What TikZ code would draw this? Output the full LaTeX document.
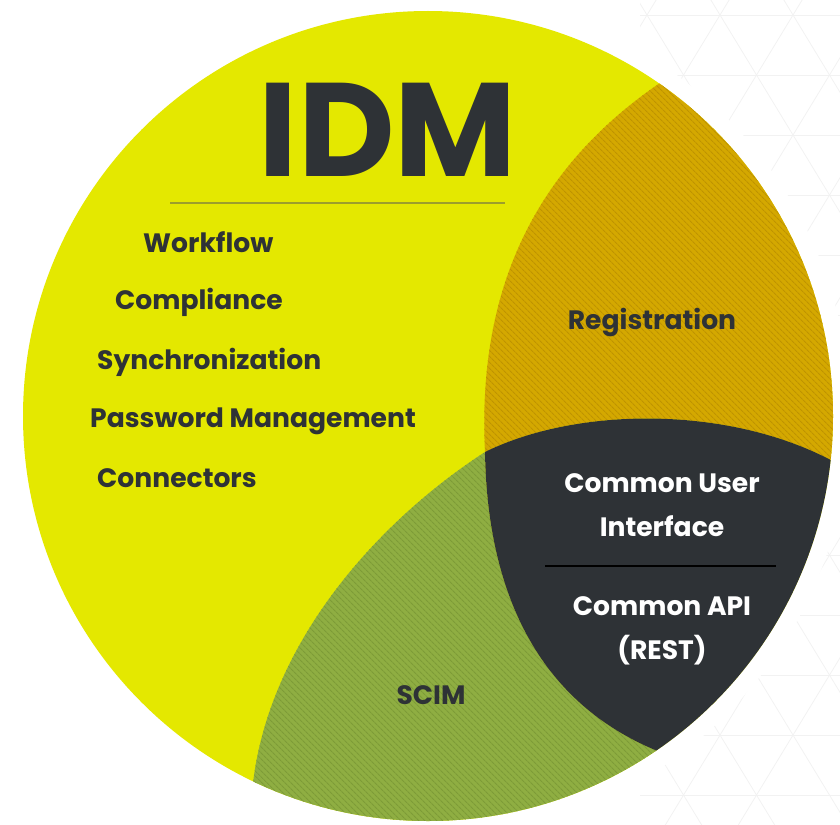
\documentclass[tikz,border=0pt]{standalone}
\usepackage{fontspec}
\setmainfont{Poppins}
\usetikzlibrary{patterns.meta}
\definecolor{idmyellow}{HTML}{E4E800}
\definecolor{idmgold}{HTML}{D4A800}
\definecolor{idmgoldline}{HTML}{BE9300}
\definecolor{idmgreen}{HTML}{8FAE42}
\definecolor{idmgreenline}{HTML}{7D9B37}
\definecolor{idmdark}{HTML}{2E3236}
\definecolor{idmrule}{HTML}{9C9E2C}

\begin{document}
\begin{tikzpicture}[x=1pt, y=-1pt, line join=round]
    \tikzstyle{item}=[anchor=base west, inner sep=0pt, text=idmdark, font=\fontsize{26.6}{26.6}\selectfont\bfseries]
    \tikzstyle{cnode}=[anchor=base, inner sep=0pt, font=\fontsize{26.6}{26.6}\selectfont\bfseries]
    \tikzstyle{hatch}=[pattern={Lines[angle=-45, distance=4pt, line width=1.1pt]}]
    \def\rbig{405}

    \useasboundingbox (0,0) rectangle (840,824);
    \coordinate (c) at (428,416);
    \coordinate (tri) at (485,452);

    % faint triangle grid behind, right side only
    \begin{scope}
        \clip (640,0) rectangle (840,824);
        \foreach \j in {0,...,13}
            \draw[black!5, line width=0.8pt] (600,15+60*\j) -- (850,15+60*\j);
        \foreach \k in {-14,...,6} {
            \pgfmathsetmacro\gx{793+73*\k}
            \draw[black!5, line width=0.8pt] ({\gx-500},-807) -- ({\gx+500},837);
            \draw[black!5, line width=0.8pt] ({\gx+500},-807) -- ({\gx-500},837);
        }
    \end{scope}
    \fill[white] (c) circle (422);

    % the disc and its parts
    \fill[idmyellow] (c) circle (\rbig);
    \begin{scope}
        \clip (c) circle (\rbig);
        % registration
        \fill[idmgold] (700,55) -- (657,85) .. controls (520,180) and (478,310) .. (tri)
            .. controls (580,405) and (740,405) .. (845,468) -- (845,40) -- cycle;
        \path[hatch, pattern color=idmgoldline] (700,55) -- (657,85) .. controls (520,180) and (478,310) .. (tri)
            .. controls (580,405) and (740,405) .. (845,468) -- (845,40) -- cycle;
        % scim
        \fill[idmgreen] (tri) .. controls (487,580) and (530,700) .. (660,752) -- (700,768) -- (700,830)
            -- (248,830) -- (253,783) .. controls (270,640) and (380,520) .. (tri) -- cycle;
        \path[hatch, pattern color=idmgreenline] (tri) .. controls (487,580) and (530,700) .. (660,752) -- (700,768) -- (700,830)
            -- (248,830) -- (253,783) .. controls (270,640) and (380,520) .. (tri) -- cycle;
        % common ui / api
        \fill[idmdark] (tri) .. controls (580,405) and (740,405) .. (845,468) -- (845,830) -- (700,830)
            -- (700,768) -- (660,752) .. controls (530,700) and (487,580) .. (tri) -- cycle;
    \end{scope}

    % title
    \node[anchor=base, inner sep=0pt, text=idmdark, font=\fontsize{133}{133}\selectfont\bfseries] (idm) at (388,176) {IDM};
    \coordinate (ruleL) at (170,203);
    \coordinate (ruleR) at (505,203);
    \draw[idmrule, line width=1.6pt] (ruleL) -- (ruleR);

    % features
    \node[item] (wflow) at (143,252) {Workflow};
    \node[item] (compl) at (115,309) {Compliance};
    \node[item] (sync) at (97,369) {Synchronization};
    \node[item] (pwd) at (90,427) {Password Management};
    \node[item] (conn) at (97,487) {Connectors};

    \node[cnode, text=idmdark] (reg) at (652,329) {Registration};
    \node[cnode, text=white] (cui) at (662,492) {Common User};
    \node[cnode, text=white] (iface) at (662,536) {Interface};
    \coordinate (sepL) at (545,566);
    \coordinate (sepR) at (776,566);
    \draw[black, line width=2.4pt] (sepL) -- (sepR);
    \node[cnode, text=white] (capi) at (662,615) {Common API};
    \node[cnode, text=white] (rest) at (662,659) {(REST)};
    \node[cnode, text=idmdark] (scim) at (431,704) {SCIM};
\end{tikzpicture}
\end{document}
